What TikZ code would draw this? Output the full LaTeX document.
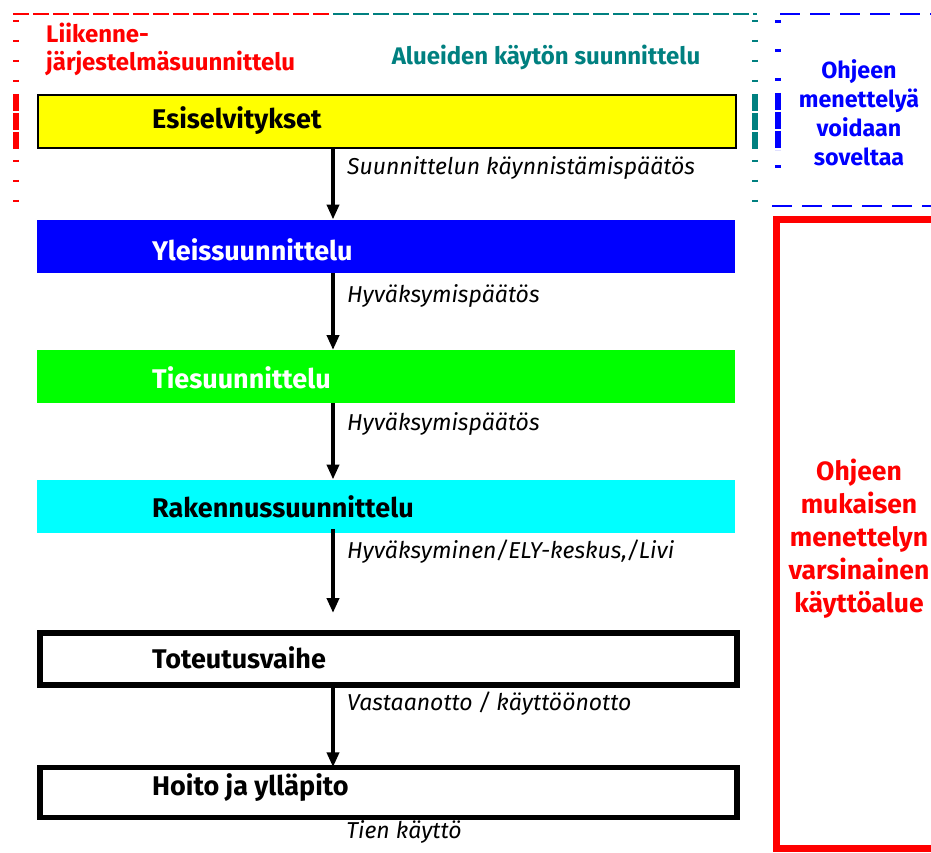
\documentclass[tikz,border=0pt]{standalone}
\usepackage{fontspec}
\setmainfont{Fira Sans}
\usetikzlibrary{arrows.meta}
\definecolor{tealc}{RGB}{0,128,128}
\definecolor{redc}{RGB}{255,0,0}
\definecolor{bluec}{RGB}{0,0,255}
\definecolor{greenc}{RGB}{0,255,0}
\definecolor{cyanc}{RGB}{0,255,255}
\definecolor{yellowc}{RGB}{255,255,0}
\tikzset{
  stagebox/.style={rectangle, minimum width=698pt, minimum height=53pt, inner sep=0pt, anchor=north west},
  stagetext/.style={anchor=west, inner sep=0pt, font=\fontsize{27}{30}\selectfont\bfseries},
  steplabel/.style={anchor=west, inner sep=0pt, font=\fontsize{23}{26}\selectfont\itshape},
  arr/.style={line width=4pt, -{Triangle[length=15pt,width=12pt]}},
  marks/.style={line width=6pt, dash pattern=on 2pt off 18pt},
}
\begin{document}
\begin{tikzpicture}[x=1pt,y=-1pt]
\useasboundingbox (0,0) rectangle (931,853);
\clip (0,0) rectangle (931,853);
% dashed frames
\draw[redc, line width=2.5pt, dash pattern=on 16pt off 4pt] (13,14) -- (333,14);
\draw[tealc, line width=2.5pt, dash pattern=on 16pt off 4pt] (333,14) -- (757,14);
\draw[redc, marks] (16,20) -- (16,216);
\draw[redc, line width=6pt, dash pattern=on 17pt off 2pt] (16,94) -- (16,150);
\draw[tealc, marks] (755,20) -- (755,216);
\draw[tealc, line width=6pt, dash pattern=on 17pt off 2pt] (755,94) -- (755,150);
\draw[bluec, line width=2.5pt, dash pattern=on 20pt off 10pt] (780,14) -- (940,14);
\draw[bluec, line width=2.5pt, dash pattern=on 20pt off 10pt] (772,206) -- (940,206);
\draw[bluec, line width=6pt, dash pattern=on 3pt off 26pt] (778,20) -- (778,190);
\draw[bluec, line width=6pt, dash pattern=on 17pt off 2pt] (778,93) -- (778,150);
% red thick frame
\draw[redc, line width=7pt] (945,219.5) -- (776.5,219.5) -- (776.5,848.5) -- (945,848.5);
% header texts
\node[anchor=west, inner sep=0pt, align=left, text=redc, font=\fontsize{24}{28}\selectfont\bfseries] (lj) at (46,49) {Liikenne-\\järjestelmäsuunnittelu};
\node[inner sep=0pt, text=tealc, font=\fontsize{24}{28}\selectfont\bfseries] (ak) at (546,57) {Alueiden käytön suunnittelu};
\node[inner sep=0pt, align=center, text=bluec, font=\fontsize{23.3}{29}\selectfont\bfseries] (ohj) at (859,113) {Ohjeen\\menettelyä\\voidaan\\soveltaa};
\node[inner sep=0pt, align=center, text=redc, font=\fontsize{26.5}{33}\selectfont\bfseries] (kay) at (859,539) {Ohjeen\\mukaisen\\menettelyn\\varsinainen\\käyttöalue};
% stage boxes
\node[stagebox, draw=black, line width=2pt, fill=yellowc] (b1) at (37,94) {};
\node[stagebox, fill=bluec] (b2) at (37,219.5) {};
\node[stagebox, fill=greenc] (b3) at (37,350) {};
\node[stagebox, fill=cyanc] (b4) at (37,479.5) {};
\node[stagebox, draw=black, line width=5.5pt, minimum width=697pt, minimum height=52pt] (b5) at (37,630) {};
\node[stagebox, draw=black, line width=5.5pt, minimum width=697pt, minimum height=50pt] (b6) at (37,764.5) {};
\node[stagetext] (t1) at (152,121) {Esiselvitykset};
\node[stagetext, text=white] (t2) at (152,250) {Yleissuunnittelu};
\node[stagetext, text=white] (t3) at (152,378) {Tiesuunnittelu};
\node[stagetext] (t4) at (152,507) {Rakennussuunnittelu};
\node[stagetext] (t5) at (152,658) {Toteutusvaihe};
\node[stagetext] (t6) at (152,788) {Hoito ja ylläpito};
% arrows
\coordinate (ax) at (333,0);
\coordinate (end4) at (333,613);
\draw[arr] (b1.south -| ax) -- (b2.north -| ax);
\draw[arr] (b2.south -| ax) -- (b3.north -| ax);
\draw[arr] (b3.south -| ax) -- (b4.north -| ax);
\draw[arr] ([yshift=4pt]b4.south -| ax) -- (end4);
\draw[arr] ([yshift=2.75pt]b5.south -| ax) -- ([yshift=-2.75pt]b6.north -| ax);
% labels
\node[steplabel] (l1) at (347,168) {Suunnittelun käynnistämispäätös};
\node[steplabel] (l2) at (347,296) {Hyväksymispäätös};
\node[steplabel] (l3) at (347,424) {Hyväksymispäätös};
\node[steplabel] (l4) at (347,552) {Hyväksyminen/ELY-keskus,/Livi};
\node[steplabel] (l5) at (347,704) {Vastaanotto / käyttöönotto};
\node[inner sep=0pt, font=\fontsize{23}{26}\selectfont\itshape] (l6) at (404,832) {Tien käyttö};
\end{tikzpicture}
\end{document}
